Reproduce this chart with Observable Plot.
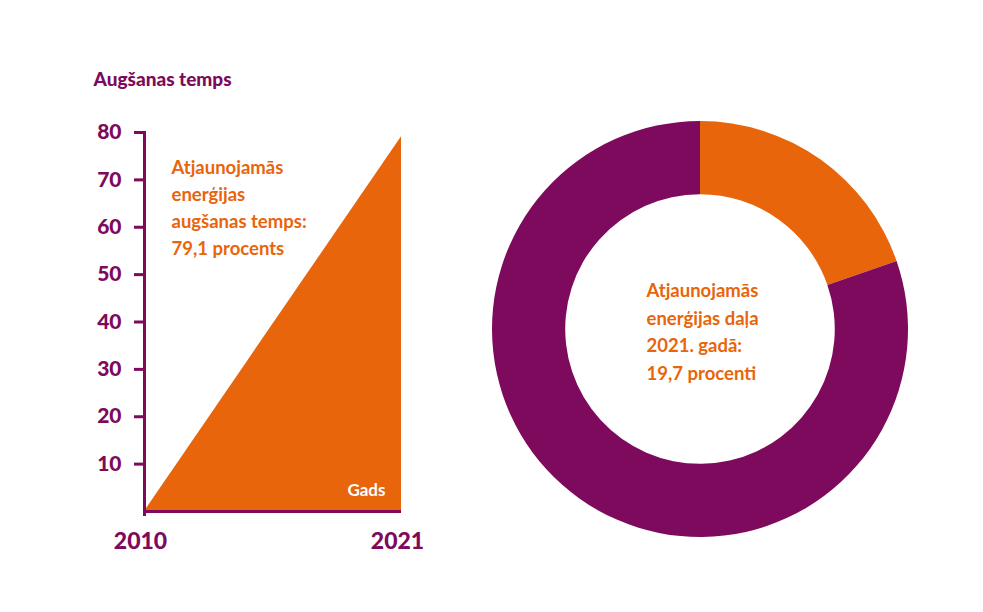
<!DOCTYPE html>
<html lang="lv">
<head>
<meta charset="utf-8">
<script src="https://cdn.jsdelivr.net/npm/d3@7"></script>
<script src="https://cdn.jsdelivr.net/npm/@observablehq/plot@0.6"></script>
<style>
  html, body { margin: 0; padding: 0; background: #fff; }
  #wrap { position: relative; width: 983px; height: 612px; overflow: hidden; font-family: Lato, sans-serif; }
  #left { position: absolute; left: 0; top: 0; }
  #right { position: absolute; left: 480px; top: 109px; }
</style>
</head>
<body>
<div id="wrap"><div id="left"></div><div id="right"></div></div>
<script>
// ---- data ----
const years = [2010, 2021];
const growthValues = [0, 79.1];
const yTicks = [10, 20, 30, 40, 50, 60, 70, 80];
const xTicks = [2010, 2021];
const sliceNames = ["Atjaunojamā enerģija", "Pārējā enerģija"];
const sliceValues = [19.7, 80.3];
const yTitle = "Augšanas temps";
const xTitle = "Gads";
const growthNote = "Atjaunojamās\nenerģijas\naugšanas temps:\n79,1 procents";
const shareNote = "Atjaunojamās\nenerģijas daļa\n2021. gadā:\n19,7 procenti";

const purple = "#7d0a5c";
const orange = "#e8650b";

const growth = years.map((year, i) => ({year, value: growthValues[i]}));
const slices = sliceNames.map((name, i) => ({name, value: sliceValues[i], color: i === 0 ? orange : purple}));

// ---- left: growth area ----
const left = Plot.plot({
  width: 460, height: 612,
  marginLeft: 144, marginRight: 59, marginTop: 132, marginBottom: 101,
  x: {domain: [2010, 2021], label: null},
  y: {domain: [0, 80], label: null},
  style: {fontFamily: "Lato, sans-serif", background: "transparent", overflow: "visible"},
  marks: [
    Plot.areaY(growth, {x: "year", y: "value", fill: orange}),
    Plot.ruleY([0], {stroke: purple, strokeWidth: 3}),
    Plot.ruleX([2010], {y1: 80, y2: 0, stroke: purple, strokeWidth: 3, insetBottom: -5, insetTop: -1}),
    Plot.axisY({ticks: yTicks, tickSize: 10, tickPadding: 13, stroke: purple, strokeWidth: 3,
      fill: purple, fontSize: 21, fontWeight: 900, label: null}),
    Plot.axisX({ticks: xTicks, tickSize: 0, tickPadding: 21, tickFormat: d => String(d), dx: -4,
      fill: purple, fontSize: 23, fontWeight: 900, label: null}),
    Plot.text([yTitle], {frameAnchor: "top-left", dx: -51, dy: -60, lineAnchor: "top", textAnchor: "start",
      fill: purple, fontSize: 19, fontWeight: 900}),
    Plot.text([growthNote], {frameAnchor: "top-left", dx: 27, dy: 22, lineAnchor: "top", textAnchor: "start",
      fill: orange, fontSize: 18.5, fontWeight: 700, lineHeight: 1.47}),
    Plot.text([{year: 2021, value: 0, label: xTitle}], {x: "year", y: "value", text: "label", dx: -16, dy: -21,
      textAnchor: "end", fill: "white", fontSize: 17, fontWeight: 700})
  ]
});
document.getElementById("left").append(left);

// ---- right: donut ----
const donutArcs = (index, scales) => {
  const cx = scales.x(0), cy = scales.y(0), R = scales.x(1) - scales.x(0);
  const pie = d3.pie().sort(null).value(d => d.value)(slices);
  const arc = d3.arc().innerRadius(R * 0.648).outerRadius(R);
  const g = d3.create("svg:g").attr("transform", `translate(${cx},${cy})`);
  g.selectAll("path").data(pie).join("path").attr("d", arc).attr("fill", d => d.data.color);
  return g.node();
};

const right = Plot.plot({
  width: 440, height: 440,
  margin: 12,
  x: {domain: [-1, 1], axis: null},
  y: {domain: [-1, 1], axis: null},
  style: {fontFamily: "Lato, sans-serif", background: "transparent", overflow: "visible"},
  marks: [
    donutArcs,
    Plot.text([{x: 0, y: 0, label: shareNote}], {x: "x", y: "y", text: "label", dx: -54, textAnchor: "start",
      lineAnchor: "middle", lineHeight: 1.5, fill: orange, fontSize: 18.5, fontWeight: 700})
  ]
});
document.getElementById("right").append(right);
</script>
</body>
</html>
